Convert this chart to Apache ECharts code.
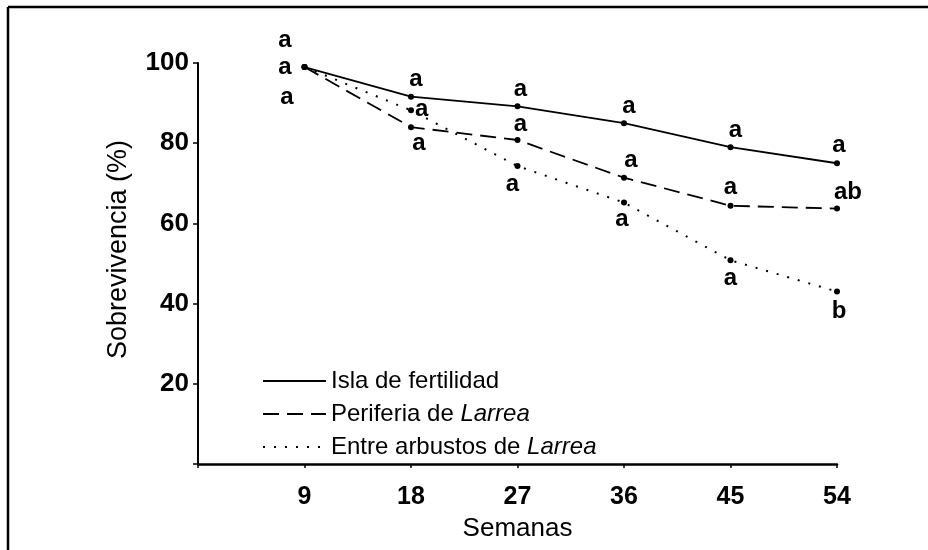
<!DOCTYPE html>
<html>
<head>
<meta charset="utf-8">
<script src="https://cdn.jsdelivr.net/npm/echarts@6/dist/echarts.min.js"></script>
<style>
html,body{margin:0;padding:0;background:#fff;}
#c{width:928px;height:550px;}
</style>
</head>
<body>
<div id="c"></div>
<script>
// ---- data ----
var weeks = [9, 18, 27, 36, 45, 54];
var xTickLabels = [9, 18, 27, 36, 45, 54];
var yTickLabels = [20, 40, 60, 80, 100];
var seriesNames = ['Isla de fertilidad', 'Periferia de Larrea', 'Entre arbustos de Larrea'];
var isla = [99, 91.6, 89.2, 85, 79, 75];
var periferia = [99, 84, 80.8, 71.4, 64.4, 63.7];
var entre = [99, 88.2, 74.3, 65.2, 50.8, 43];
var islaLetters = ['a', 'a', 'a', 'a', 'a', 'a'];
var periferiaLetters = ['a', 'a', 'a', 'a', 'a', 'ab'];
var entreLetters = ['a', 'a', 'a', 'a', 'a', 'b'];

// ---- label placement (style) ----
var FONT = '"Liberation Sans", Arial, Helvetica, sans-serif';
function lbl(pos, offset, dist) {
  return {show: true, position: pos, offset: offset || [0, 0], distance: dist == null ? 4 : dist,
    color: '#000', fontFamily: FONT, fontWeight: 'bold', fontSize: 24};
}
var islaPos = [lbl('left', [-2, -27], 8), lbl('top', [5, 0], 2), lbl('top', [3, 0], 2), lbl('top', [5, 0], 2), lbl('top', [5, 0], 2), lbl('top', [2, 0], 3)];
var periPos = [lbl('left', [-2, 0], 8), lbl('bottom', [8, 0], 1), lbl('top', [3, 0], 1), lbl('top', [7, 0], 2), lbl('top', [0, 0], 3), lbl('top', [11, 0], 1)];
var entrePos = [lbl('left', [0, 30], 8), lbl('right', [0, -1], 1), lbl('bottom', [-5, 0], 3), lbl('bottom', [-2, 0], 2), lbl('bottom', [0, 0], 3), lbl('bottom', [2, 0], 5)];

function build(vals, letters, pos) {
  return vals.map(function (v, i) {
    return {value: [weeks[i], v], label: Object.assign({}, pos[i], {formatter: letters[i]})};
  });
}

var chart = echarts.init(document.getElementById('c'), null, {renderer: 'canvas'});
var common = {
  type: 'line', symbol: 'circle', symbolSize: 6,
  itemStyle: {color: '#000'}, z: 3, animation: false
};
chart.setOption({
  animation: false,
  backgroundColor: '#fff',
  grid: {left: 198, right: 91, top: 63, bottom: 86, containLabel: false},
  xAxis: {
    type: 'value', min: 0, max: 54, interval: 9,
    name: 'Semanas', nameLocation: 'middle', nameGap: 52,
    nameTextStyle: {color: '#000', fontFamily: FONT, fontSize: 26},
    axisLine: {show: true, lineStyle: {color: '#000', width: 2.5}, onZero: false},
    axisTick: {show: true, length: 4, inside: false, lineStyle: {color: '#000', width: 1.5}},
    axisLabel: {color: '#000', fontFamily: FONT, fontWeight: 'bold', fontSize: 25, margin: 21,
      formatter: function (v) { return xTickLabels.indexOf(v) >= 0 ? String(v) : ''; }},
    splitLine: {show: false}
  },
  yAxis: {
    type: 'value', min: 0, max: 100, interval: 20,
    name: 'Sobrevivencia (%)', nameLocation: 'middle', nameGap: 66, nameRotate: 90,
    nameTextStyle: {color: '#000', fontFamily: FONT, fontSize: 27, padding: [0, 0, 0, 28]},
    axisLine: {show: true, lineStyle: {color: '#000', width: 2}},
    axisTick: {show: true, length: 5, lineStyle: {color: '#000', width: 1.5}},
    axisLabel: {color: '#000', fontFamily: FONT, fontWeight: 'bold', fontSize: 26, margin: 9,
      formatter: function (v) { return yTickLabels.indexOf(v) >= 0 ? String(v) : ''; }},
    splitLine: {show: false}
  },
  legend: {
    orient: 'vertical', left: 257, top: 364, itemWidth: 63, itemHeight: 14, itemGap: 9,
    itemStyle: {opacity: 0},
    textStyle: {color: '#000', fontFamily: FONT, fontSize: 24, lineHeight: 24,
      rich: {i: {fontStyle: 'italic', fontFamily: FONT, fontSize: 24, color: '#000'}}},
    formatter: function (name) { return name.replace('Larrea', '{i|Larrea}'); },
    data: seriesNames
  },
  series: [
    Object.assign({}, common, {name: seriesNames[0], data: build(isla, islaLetters, islaPos),
      lineStyle: {color: '#000', width: 1.8, type: 'solid'}}),
    Object.assign({}, common, {name: seriesNames[1], data: build(periferia, periferiaLetters, periPos),
      lineStyle: {color: '#000', width: 1.8, type: [16, 8]}}),
    Object.assign({}, common, {name: seriesNames[2], data: build(entre, entreLetters, entrePos),
      lineStyle: {color: '#000', width: 2, type: [2, 9]}})
  ],
  graphic: [
    {type: 'line', shape: {x1: 8, y1: 7, x2: 8, y2: 550}, style: {stroke: '#000', lineWidth: 2.5}},
    {type: 'line', shape: {x1: 8, y1: 7, x2: 928, y2: 7}, style: {stroke: '#000', lineWidth: 2.5}}
  ]
});
</script>
</body>
</html>
